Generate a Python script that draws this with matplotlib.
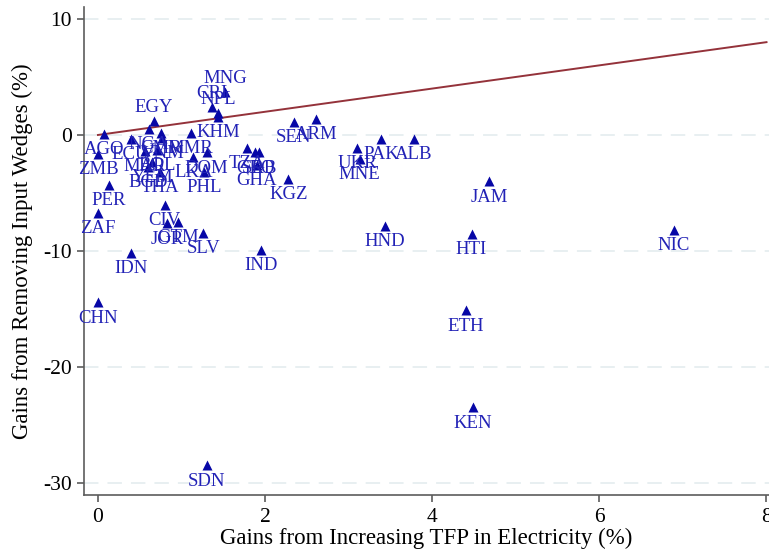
import matplotlib
matplotlib.use("Agg")
import matplotlib.pyplot as plt

plt.rcParams["font.family"] = ["Liberation Serif", "DejaVu Serif"]
plt.rcParams["axes.unicode_minus"] = False

# country codes and the two gain measures (%)
codes = ["AGO", "ZMB", "PER", "ZAF", "CHN", "IDN", "EGY", "NGA", "ECU", "CMR",
         "VNM", "MAR", "BOL", "YEM", "BGD", "THA", "CIV", "JOR", "GTM", "SLV",
         "MNG", "CRI", "NPL", "KHM", "MMR", "DOM", "LKA", "PHL", "TZA", "GEO",
         "SRB", "GHA", "SEN", "ARM", "KGZ", "IND", "SDN", "UKR", "MNE", "PAK",
         "ALB", "HND", "JAM", "HTI", "NIC", "ETH", "KEN"]
tfp_gain = [0.07, 0.00, 0.13, 0.00, 0.00, 0.39, 0.67, 0.61, 0.39, 0.75,
            0.77, 0.56, 0.71, 0.65, 0.60, 0.74, 0.80, 0.83, 0.96, 1.26,
            1.52, 1.36, 1.44, 1.44, 1.11, 1.30, 1.14, 1.27, 1.78, 1.88,
            1.93, 1.90, 2.34, 2.61, 2.28, 1.95, 1.30, 3.10, 3.13, 3.39,
            3.78, 3.43, 4.68, 4.47, 6.89, 4.40, 4.49]
wedge_gain = [0.09, -1.64, -4.31, -6.72, -14.40, -10.17, 1.21, 0.52, -0.34, 0.17,
              -0.26, -1.38, -1.29, -2.33, -2.76, -3.19, -6.03, -7.59, -7.50, -8.45,
              3.71, 2.41, 1.90, 1.55, 0.17, -1.47, -1.90, -3.19, -1.12, -1.47,
              -1.47, -2.59, 1.12, 1.38, -3.79, -9.91, -28.45, -1.12, -2.07, -0.34,
              -0.34, -7.84, -3.97, -8.53, -8.19, -15.09, -23.45]

# these get their label above the marker, the rest below
label_above = ["MNG", "CRI", "NPL", "EGY"]

fig = plt.figure(figsize=(7.69, 5.52), dpi=100)
ax = fig.add_axes([84 / 769, 57 / 552, 685 / 769, 488 / 552])

for yv in [-30, -20, -10, 0, 10]:
    ax.axhline(yv, color="#e6eef0", lw=1.3, ls=(0, (8, 5)), zorder=0)

# 45 degree line
ax.plot([0, 8], [0, 8], color="#94323a", lw=1.4, zorder=2)

ax.scatter(tfp_gain, wedge_gain, marker="^", s=52, color="#0707a6",
           linewidths=0, zorder=3)

for c, xv, yv in zip(codes, tfp_gain, wedge_gain):
    dy = 10 if c in label_above else -11.5
    ax.annotate(c, (xv, yv), xytext=(0, dy), textcoords="offset points",
                ha="center", va="center", fontsize=13.5, color="#2222b6",
                zorder=4)

ax.set_xlim(-0.167, 8.03)
ax.set_ylim(-31.03, 11.03)
ax.set_xticks([0, 2, 4, 6, 8])
ax.set_yticks([-30, -20, -10, 0, 10])

for side in ["top", "right"]:
    ax.spines[side].set_visible(False)
for side in ["left", "bottom"]:
    ax.spines[side].set_color("#5c5c5c")
    ax.spines[side].set_linewidth(1.2)

ax.tick_params(axis="both", length=5, width=1.2, color="#5c5c5c",
               labelsize=15.5, pad=4)
ax.set_xlabel("Gains from Increasing TFP in Electricity (%)", fontsize=16.5,
              labelpad=1)
ax.set_ylabel("Gains from Removing Input Wedges (%)", fontsize=16.5,
              labelpad=7)

fig.savefig("out.png", dpi=100)
